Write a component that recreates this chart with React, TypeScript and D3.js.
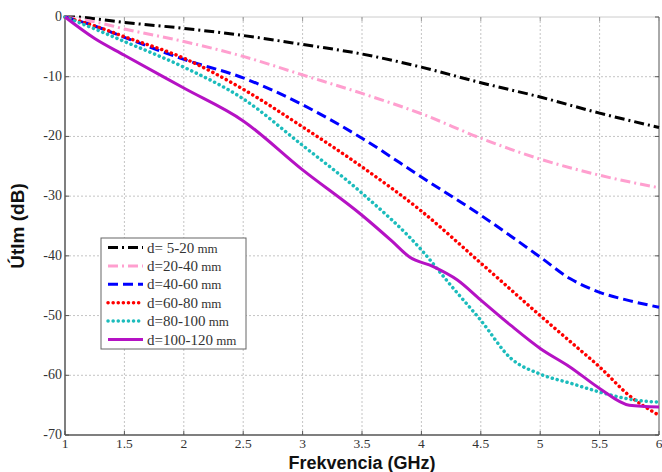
import React from 'react';
import * as d3 from 'd3';

const W = 662;
const H = 472;
const margin = { top: 17, right: 3, bottom: 37, left: 65 };

const xTicks = [1, 1.5, 2, 2.5, 3, 3.5, 4, 4.5, 5, 5.5, 6];
const yTicks = [0, -10, -20, -30, -40, -50, -60, -70];

const freqBlack = [1, 1.1, 1.25, 1.5, 2, 2.5, 3, 3.5, 4, 4.5, 5, 5.5, 6];
const dbBlack = [0, 0, -0.3, -0.9, -1.9, -3.1, -4.6, -6.2, -8.4, -11, -13.4, -16.1, -18.5];

const freqPink = [1, 1.25, 1.5, 2, 2.5, 3, 3.5, 4, 4.5, 5, 5.5, 6];
const dbPink = [0, -0.8, -2, -4.1, -6.6, -9.7, -12.8, -16.2, -20.3, -23.8, -26.5, -28.6];

const freqBlue = [1, 1.25, 1.5, 2, 2.5, 3, 3.5, 4, 4.5, 5, 5.25, 5.5, 5.75, 6];
const dbBlue = [0, -1.5, -3.4, -7.1, -10.2, -14.7, -20.3, -26.8, -33.2, -40.2, -43.8, -46.1, -47.5, -48.6];

const freqRed = [1, 1.25, 1.5, 2, 2.5, 3, 3.5, 4, 4.5, 5, 5.25, 5.5, 5.75, 6];
const dbRed = [0, -1.5, -3.3, -6.9, -12.1, -18.4, -25.1, -32.5, -41.2, -50, -54.3, -58.6, -63.4, -66.7];

const freqCyan = [1, 1.25, 1.5, 2, 2.5, 3, 3.5, 4, 4.25, 4.5, 4.75, 5, 5.25, 5.5, 5.75, 6];
const dbCyan = [0, -2, -4.1, -8.4, -13.7, -21.5, -29.5, -39, -45, -50.8, -57.1, -59.8, -61.3, -62.8, -64, -64.5];

const freqMagenta = [1, 1.25, 1.5, 2, 2.5, 3, 3.5, 3.75, 3.9, 4.1, 4.3, 4.5, 4.75, 5, 5.25, 5.5, 5.75, 6];
const dbMagenta = [0, -3.6, -6.4, -11.9, -17.4, -25.6, -33.2, -37.5, -40.2, -41.8, -44, -47.4, -51.6, -55.5, -58.6, -62.2, -65, -65.3];

const seriesNames = ['d= 5-20', 'd=20-40', 'd=40-60', 'd=60-80', 'd=80-100', 'd=100-120'];

const series = [
  { name: seriesNames[0], f: freqBlack, v: dbBlack, color: '#000000', dash: '10 4 2 4', cap: 'butt' },
  { name: seriesNames[1], f: freqPink, v: dbPink, color: '#ff9fcf', dash: '10 4 2 4', cap: 'butt' },
  { name: seriesNames[2], f: freqBlue, v: dbBlue, color: '#0000ff', dash: '10 5', cap: 'butt' },
  { name: seriesNames[3], f: freqRed, v: dbRed, color: '#ff0000', dash: '0.1 5', cap: 'round' },
  { name: seriesNames[4], f: freqCyan, v: dbCyan, color: '#1cbcbc', dash: '0.1 5', cap: 'round' },
  { name: seriesNames[5], f: freqMagenta, v: dbMagenta, color: '#b512c4', dash: '', cap: 'butt' },
];

export default function App() {
  const x = d3.scaleLinear().domain([1, 6]).range([margin.left, W - margin.right]);
  const y = d3.scaleLinear().domain([0, -70]).range([margin.top, H - margin.bottom]);

  const line = d3
    .line<[number, number]>()
    .x(d => x(d[0]))
    .y(d => y(d[1]))
    .curve(d3.curveMonotoneX);

  const x0 = x(1), x1 = x(6), y0 = y(0), y1 = y(-70);
  const serif = '"Liberation Serif", "Times New Roman", serif';

  const lx = 101, ly = 238, lw = 145, lh = 111;

  return (
    <svg width={W} height={H} style={{ position: 'absolute', left: 0, top: 0, background: '#fff' }}>
      {/* grid */}
      {xTicks.slice(1, -1).map(t => (
        <line key={'gx' + t} x1={x(t)} x2={x(t)} y1={y0} y2={y1} stroke="#c4c4c4" strokeWidth={1} strokeDasharray="2 2" />
      ))}
      {yTicks.slice(1, -1).map(t => (
        <line key={'gy' + t} x1={x0} x2={x1} y1={y(t)} y2={y(t)} stroke="#c4c4c4" strokeWidth={1} strokeDasharray="2 2" />
      ))}
      {/* frame */}
      <line x1={x0} x2={x1} y1={y0} y2={y0} stroke="#ccc" />
      <line x1={x1} x2={x1} y1={y0} y2={y1} stroke="#555" />
      <line x1={x0} x2={x0} y1={y0} y2={y1} stroke="#555" strokeWidth={1.5} />
      <line x1={x0} x2={x1} y1={y1} y2={y1} stroke="#555" strokeWidth={1.5} />
      {xTicks.map(t => (
        <g key={'tx' + t}>
          <line x1={x(t)} x2={x(t)} y1={y1} y2={y1 - 4} stroke="#555" />
          <line x1={x(t)} x2={x(t)} y1={y0} y2={y0 + 4} stroke="#999" />
          <text x={x(t)} y={y1 + 13} textAnchor="middle" fontFamily={serif} fontSize={13.5} fill="#333">
            {t}
          </text>
        </g>
      ))}
      {yTicks.map(t => (
        <g key={'ty' + t}>
          <line x1={x0} x2={x0 + 4} y1={y(t)} y2={y(t)} stroke="#555" />
          <line x1={x1} x2={x1 - 4} y1={y(t)} y2={y(t)} stroke="#555" />
          <text x={x0 - 3} y={y(t) + 4} textAnchor="end" fontFamily={serif} fontSize={14} fill="#333">
            {t}
          </text>
        </g>
      ))}
      {/* curves */}
      {series.map(s => (
        <path
          key={s.name}
          d={line(s.f.map((f, i) => [f, s.v[i]] as [number, number])) || ''}
          fill="none"
          stroke={s.color}
          strokeWidth={s.cap === 'round' ? 3.5 : 3}
          strokeDasharray={s.dash || undefined}
          strokeLinecap={s.cap as any}
        />
      ))}
      {/* legend */}
      <rect x={lx} y={ly} width={lw} height={lh} fill="#fff" stroke="#666" strokeWidth={1} />
      {series.map((s, i) => {
        const yy = ly + 9.5 + i * 18.4;
        return (
          <g key={'lg' + s.name}>
            <line
              x1={lx + 7}
              x2={lx + 42}
              y1={yy}
              y2={yy}
              stroke={s.color}
              strokeWidth={s.cap === 'round' ? 3.5 : 3}
              strokeDasharray={s.dash || undefined}
              strokeLinecap={s.cap as any}
            />
            <text x={lx + 46} y={yy + 5} fontFamily={serif} fontSize={15} fill="#333">
              {s.name}
              <tspan fontSize={13}> mm</tspan>
            </text>
          </g>
        );
      })}
      {/* axis titles */}
      <text
        transform={`translate(24, ${(y0 + y1) / 2}) rotate(-90)`}
        textAnchor="middle"
        fontFamily='"Liberation Sans", Arial, sans-serif'
        fontWeight="bold"
        fontSize={19}
        fill="#111"
      >
        Útlm (dB)
      </text>
      <text
        x={(x0 + x1) / 2}
        y={H - 3}
        textAnchor="middle"
        fontFamily='"Liberation Sans", Arial, sans-serif'
        fontWeight="bold"
        fontSize={18}
        fill="#111"
      >
        Frekvencia (GHz)
      </text>
    </svg>
  );
}
